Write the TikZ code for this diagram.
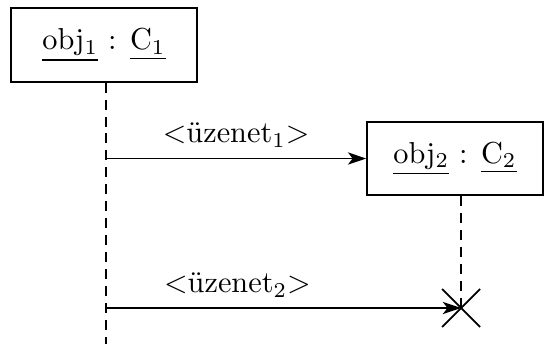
\documentclass[tikz,border=0pt]{standalone}
\usetikzlibrary{arrows.meta}
\tikzset{
  objbox/.style={draw, semithick, minimum height=24.2pt, inner sep=0pt},
  lifeline/.style={semithick, dash pattern=on 3.3pt off 2.3pt},
  msg/.style={semithick, -{Stealth[length=6pt, width=4pt, inset=1.5pt]}}
}
\begin{document}
\begin{tikzpicture}[x=0.33pt, y=-0.33pt]
  \useasboundingbox (0,0) rectangle (544,344);
  \node[objbox, minimum width=61.4pt] (o1) at (104,45) {\underline{obj$_1$} : \underline{C$_1$}};
  \node[objbox, minimum width=58pt] (o2) at (455,158.5) {\underline{obj$_2$} : \underline{C$_2$}};
  \coordinate (l1top) at ([xshift=0.7pt]o1.south);
  \coordinate (l1end) at (l1top |- 0,344);
  \coordinate (l2top) at ([xshift=2pt]o2.south);
  \coordinate (x2) at (l2top |- 0,308);
  % lifelines
  \draw[lifeline] (l1top) -- (l1end);
  \draw[lifeline] (l2top) -- (x2);
  % messages
  \draw[msg] (l1top |- o2.west) -- (o2.west) node[midway, above] {$<$\"uzenet$_1$$>$};
  \draw[msg] (l1top |- x2) -- (x2) node[pos=0.37, above] {$<$\"uzenet$_2$$>$};
  % destruction
  \draw[semithick] ([shift={(-19,-19)}]x2) -- ([shift={(19,19)}]x2);
  \draw[semithick] ([shift={(-19,19)}]x2) -- ([shift={(19,-19)}]x2);
\end{tikzpicture}
\end{document}
